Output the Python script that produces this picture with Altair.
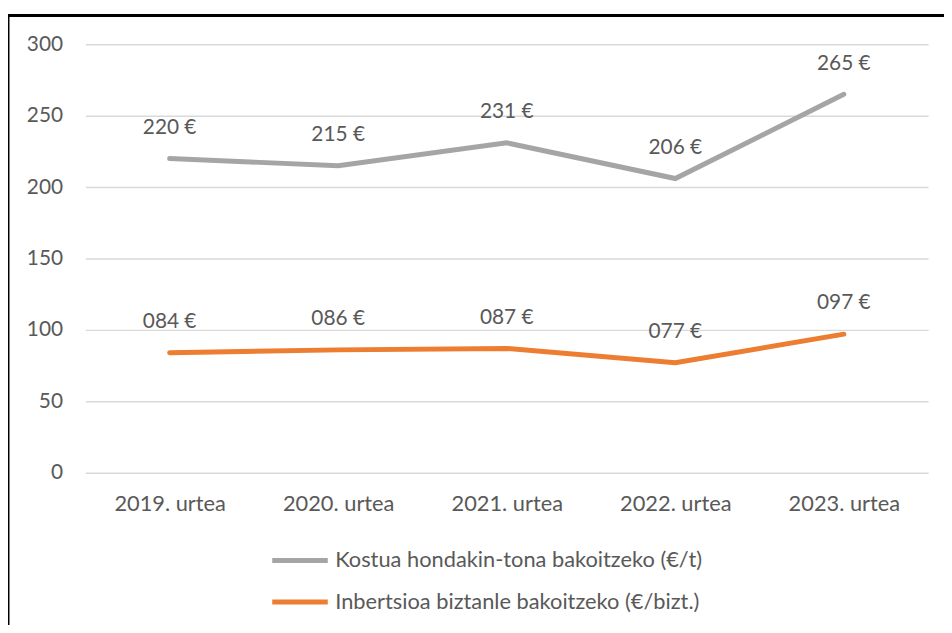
import altair as alt
import pandas as pd

years = ["2019. urtea", "2020. urtea", "2021. urtea", "2022. urtea", "2023. urtea"]
series_names = ["Kostua hondakin-tona bakoitzeko (€/t)", "Inbertsioa biztanle bakoitzeko (€/bizt.)"]
kostua = [220, 215, 231, 206, 265]
inbertsioa = [84, 86, 87, 77, 97]
y_ticks = [0, 50, 100, 150, 200, 250, 300]
colors = ["#a5a5a5", "#ed7d31"]

rows = []
for y, v in zip(years, kostua):
    rows.append({"year": y, "series": series_names[0], "value": v})
for y, v in zip(years, inbertsioa):
    rows.append({"year": y, "series": series_names[1], "value": v})
df = pd.DataFrame(rows)

FONT = "Lato"
TXT = "#595959"
W, H = 850, 432

x = alt.X("year:N", sort=years, title=None,
          scale=alt.Scale(padding=0.5),
          axis=alt.Axis(labelAngle=0, ticks=False, domain=False, grid=False,
                        labelFontSize=22, labelColor=TXT, labelFont=FONT,
                        labelPadding=21))
y = alt.Y("value:Q", title=None,
          scale=alt.Scale(domain=[0, 300], nice=False),
          axis=alt.Axis(values=y_ticks, ticks=False, domain=False, grid=True,
                        gridColor="#d9d9d9", gridWidth=1.5,
                        labelFontSize=21, labelColor=TXT, labelFont=FONT,
                        labelPadding=23))
color = alt.Color("series:N",
                  scale=alt.Scale(domain=series_names, range=colors),
                  legend=alt.Legend(title=None, orient="none", legendX=186, legendY=490,
                                    direction="vertical", symbolType="stroke",
                                    symbolSize=3136, symbolStrokeWidth=5,
                                    labelFontSize=22, labelColor=TXT, labelFont=FONT,
                                    labelOffset=5, rowPadding=-11, labelLimit=0))

lines = alt.Chart(df).mark_line(strokeWidth=5, strokeCap="round").encode(
    x=x, y=y, color=color)

labels = alt.Chart(df).transform_calculate(
    lab="format(datum.value, '03d') + ' €'"
).mark_text(dy=-31, fontSize=21, font=FONT, color=TXT).encode(
    x=alt.X("year:N", sort=years, scale=alt.Scale(padding=0.5)),
    y="value:Q", text="lab:N")

frame_df = pd.DataFrame({"a": [0]})
left_border = alt.Chart(frame_df).mark_rule(color="black", strokeWidth=3).encode(
    x=alt.value(-78), y=alt.value(-29), y2=alt.value(H + 160))
top_border = alt.Chart(frame_df).mark_rule(color="black", strokeWidth=3).encode(
    x=alt.value(-78), x2=alt.value(W + 20), y=alt.value(-29))

chart = alt.layer(lines, labels, left_border, top_border).properties(
    width=W, height=H,
    autosize=alt.AutoSizeParams(type="none"),
    padding={"left": 78, "top": 34, "right": 16, "bottom": 151},
).configure_view(stroke=None)

chart.save("out.html", embed_options={"renderer": "svg", "actions": False})
